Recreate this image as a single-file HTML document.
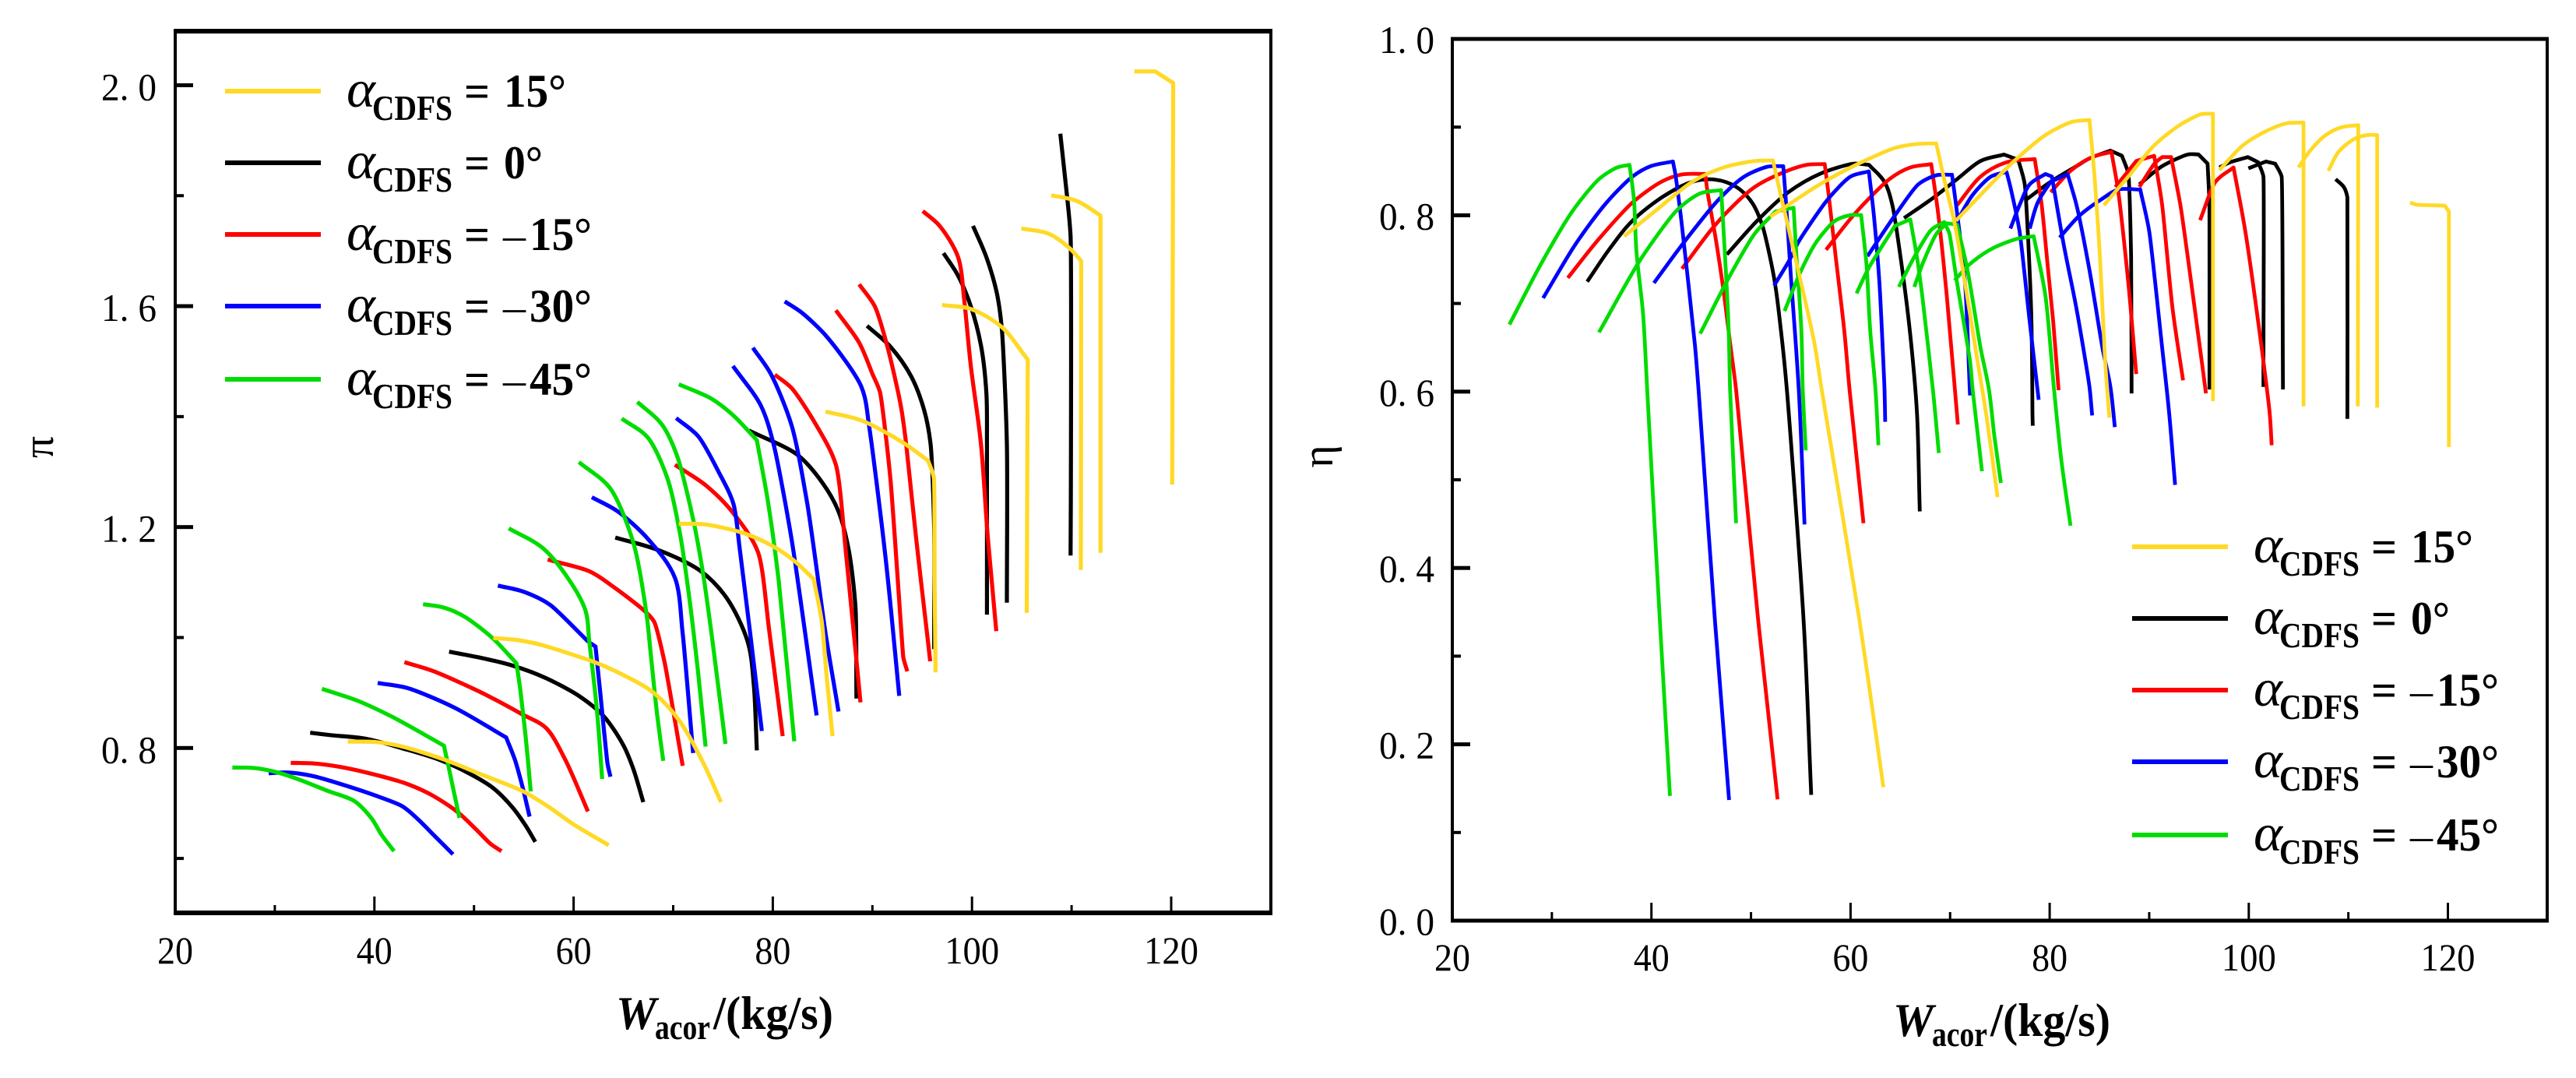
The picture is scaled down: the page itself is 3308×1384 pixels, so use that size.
<!DOCTYPE html>
<html lang="en">
<head>
<meta charset="utf-8">
<title>Compressor maps</title>
<style>
html,body{margin:0;padding:0;background:#fff;width:3308px;height:1384px;overflow:hidden}
svg{display:block;font-family:"Liberation Serif",serif}
</style>
</head>
<body>
<svg id="figure" xmlns="http://www.w3.org/2000/svg" width="3308" height="1384" viewBox="0 0 3308 1384">
  <rect width="3308" height="1384" fill="#fff"/>
  <g id="left-chart"></g>
  <g id="right-chart"></g>
</svg>
<script>
const xTickLabels = [20, 40, 60, 80, 100, 120];
const xTickMinor = [30, 50, 70, 90, 110, 130];
const piTickLabels = ["0. 8", "1. 2", "1. 6", "2. 0"];
const piTickValues = [0.8, 1.2, 1.6, 2.0];
const piTickMinor = [0.6, 1.0, 1.4, 1.8];
const etaTickLabels = ["0. 0", "0. 2", "0. 4", "0. 6", "0. 8", "1. 0"];
const etaTickValues = [0, 0.2, 0.4, 0.6, 0.8, 1.0];
const etaTickMinor = [0.1, 0.3, 0.5, 0.7, 0.9];
const legendAngles = ["15°", "0°", "–15°", "–30°", "–45°"];

/* pressure ratio: each curve is a list of [Wacor, pi] readings */
const piBlack = [
[[33.55,.8276],[35.77,.8229],[39.16,.8167],[42.8,.7994],[46.45,.7791],[49.58,.7533],[51.93,.7274],[53.88,.6921],[55.19,.6592],[56.15,.63]],
[[47.5,.9743],[51,.962],[54.01,.9484],[57.14,.9272],[60.53,.8943],[63,.858],[65,.805],[66,.762],[67,.702]],
[[64.18,1.1811],[68.6,1.1576],[72.78,1.12],[75.4,1.0706],[77.47,.993],[78.1,.913],[78.4,.7956]],
[[77.6,1.3748],[82.42,1.3316],[85,1.2798],[86.6,1.2281],[87.63,1.1576],[88.3,1.0542],[88.4,.8896]],
[[89.46,1.5643],[91.8,1.5267],[93.9,1.4726],[95.2,1.4115],[95.84,1.3504],[96.2,1.2],[96.2,.979]],
[[97.14,1.6959],[98.58,1.656],[99.88,1.5996],[100.9,1.529],[101.44,1.4444],[101.5,1.3504],[101.5,1.0414]],
[[100.1,1.7453],[101.44,1.6889],[102.5,1.623],[103,1.5572],[103.5,1.3504],[103.5,1.063]],
[[108.87,1.9122],[109.5,1.8064],[109.9,1.7265],[109.94,1.3504],[109.9,1.1485]]
];
const piRed = [
[[31.6,.773],[33.94,.772],[37.07,.764],[40.72,.7486],[43.33,.7345],[45.67,.7157],[48.28,.6851],[50.1,.6545],[51.67,.6263],[52.76,.6132]],
[[43.01,.9554],[45.93,.939],[50.62,.9014],[54.79,.8614],[57.27,.8356],[59.22,.7768],[61.44,.6851]],
[[57.4,1.1411],[61.57,1.12],[64.18,1.0894],[67.04,1.0495],[68.09,1.0283],[69.13,.9554],[70.95,.7677]],
[[70.17,1.3128],[73.3,1.2751],[75.9,1.2281],[78.5,1.1552],[79.68,1.007],[80.99,.8215]],
[[80.2,1.476],[81.9,1.4514],[84.25,1.388],[86.33,1.3128],[87.37,1.1482],[88.8,.8826]],
[[86.33,1.5925],[88.67,1.5337],[90,1.4773],[90.76,1.4444],[91.8,1.2892],[93.1,.9648],[93.5,.9388]],
[[88.67,1.6395],[90.24,1.5996],[91.54,1.5243],[92.84,1.421],[93.36,1.355],[94.4,1.178],[95.6,.99],[95.8,.957]],
[[95.06,1.7721],[96.75,1.7453],[98.6,1.6889],[99.23,1.609],[99.88,1.4914],[100.9,1.3504],[101.6,1.178],[102.44,1.0116]]
];
const piBlue = [
[[29.38,.7542],[31.34,.7556],[33.94,.7486],[37.07,.7321],[40.2,.7133],[42.8,.6945],[44.37,.671],[46.19,.6381],[47.89,.6075]],
[[40.33,.9178],[43.33,.9084],[48.02,.8732],[53.23,.8191],[54.14,.7768],[54.93,.7251],[55.58,.6757]],
[[52.4,1.094],[55.06,1.0824],[57.66,1.0589],[61.44,.993],[62.2,.9837],[62.6,.913],[63.4,.7721],[63.7,.748]],
[[61.83,1.254],[64.44,1.2281],[67.57,1.1764],[70.17,1.1082],[70.95,1.0071],[72,.7909]],
[[70.3,1.3974],[72.5,1.3645],[74.6,1.2986],[76.04,1.2422],[76.7,1.1576],[77.73,1.0071],[78.9,.8308]],
[[76,1.4916],[78.77,1.4209],[80.08,1.35],[81.9,1.1764],[84.4,.859]],
[[78,1.5246],[79.8,1.4773],[81.9,1.3833],[83.46,1.2422],[85.3,1.007],[86.6,.866]],
[[81.2,1.6086],[82.94,1.5878],[85.5,1.5431],[88.9,1.4538],[89.7,1.3786],[91.3,1.1482],[92.7,.8943]]
];
const piGreen = [
[[25.74,.7646],[27.95,.7636],[30.3,.7556],[32.64,.7415],[35.25,.7227],[37.98,.7039],[39.68,.6734],[40.72,.6428],[41.97,.6132]],
[[34.73,.907],[38.38,.885],[41.76,.8567],[44.37,.8309],[46.98,.8041],[47.37,.7721],[48.54,.6734]],
[[44.89,1.0603],[46.98,1.0542],[49.06,1.0377],[51.93,.9978],[54.27,.9531],[54.66,.9037],[55.19,.8191],[55.7,.7213]],
[[53.49,1.1976],[56.88,1.1623],[59.49,1.1059],[61.18,1.0495],[61.57,.9931],[62.35,.8661],[62.87,.7439]],
[[60.53,1.3175],[63.66,1.2704],[66,1.1717],[67.3,1.0448],[67.8,.96],[68.35,.8661],[69,.7768]],
[[64.83,1.3964],[67.44,1.3621],[69.4,1.2892],[70.7,1.1858],[71.74,1.0542],[72.5,.9366],[73.25,.8026]],
[[66.4,1.4265],[68.87,1.3856],[70.43,1.3269],[72,1.214],[73,1.1153],[73.95,.993],[75.25,.8073]],
[[70.56,1.4585],[73.82,1.4326],[76.04,1.4021],[78.4,1.3574],[79.55,1.2422],[80.6,1.1012],[82.16,.812]]
];
const piYellow = [
[[37.33,.8116],[40.2,.8106],[42.8,.8026],[46.98,.7791],[50.89,.7509],[54.79,.7227],[57.4,.6945],[60,.6616],[63.53,.624]],
[[51.93,.9992],[54.5,.995],[56.88,.986],[62.1,.9554],[65,.932],[68.1,.899],[70.7,.8473],[73.04,.772],[74.8,.702]],
[[70.56,1.206],[73.3,1.2046],[77.2,1.1882],[80.08,1.1646],[82.16,1.1388],[84.1,1.1059],[84.9,1.0307],[85.42,.9272],[86,.8214]],
[[85.29,1.4091],[88.94,1.3927],[93.1,1.3527],[95.6,1.32],[96.17,1.2894],[96.25,1.1],[96.34,.9369]],
[[97,1.602],[99.88,1.5948],[103,1.5619],[105.6,1.5032],[105.55,1.3],[105.5,1.0446]],
[[104.96,1.7406],[107.7,1.731],[109.78,1.7053],[110.96,1.6818],[110.93,1.1223]],
[[107.96,1.8008],[110.57,1.79],[112.9,1.7641],[112.9,1.1534]],
[[116.3,2.025],[118.4,2.025],[120.2,2.0039],[120.1,1.2769]]
];

/* efficiency: each curve is a list of [Wacor, eta] readings */
const etaBlack = [
[[33.55,.7247],[35.77,.7615],[38.1,.7939],[41.25,.8218],[44.1,.838],[46.46,.8404],[48.54,.8321],[50.1,.8145],[51.15,.788],[52.32,.7291],[53,.6702],[53.6,.6025],[55.3,.3375],[56.05,.1427]],
[[47.58,.7556],[50.63,.7939],[53.76,.8262],[56.9,.8469],[60.3,.8586],[61.85,.8572],[63.4,.838],[64.2,.8115],[65.2,.7379],[66,.6643],[66.67,.5759],[66.95,.4641]],
[[65.37,.7968],[68.37,.8203],[70.7,.841],[73.06,.8616],[75.4,.8689],[76.85,.863],[77.5,.8351],[78.14,.6937],[78.27,.5759],[78.3,.5613]],
[[77.6,.8174],[80.1,.838],[82.7,.8557],[84,.8645],[86.1,.8733],[87.26,.8675],[87.9,.8469],[88.18,.7526],[88.23,.598]],
[[89,.835],[91.3,.8557],[93.9,.869],[94.95,.869],[95.86,.8586],[96.05,.8115],[96.05,.6025]],
[[97.04,.8542],[98.08,.86],[99.9,.866],[100.95,.8601],[101.47,.8439],[101.47,.6054]],
[[99.96,.8533],[101.73,.861],[102.65,.8586],[103.3,.8439],[103.43,.6025]],
[[108.72,.841],[109.55,.832],[109.9,.8204],[109.9,.5692]]
];
const etaRed = [
[[31.6,.729],[34.73,.7732],[38.1,.8145],[41,.838],[43.07,.8463],[45.4,.8469],[45.68,.8233],[46.46,.7732],[47.24,.7144],[47.9,.6555],[48.5,.6025],[50.7,.3434],[52.67,.1376]],
[[43.07,.7394],[45.9,.7821],[47.76,.8056],[50.37,.8321],[53.5,.8498],[55.6,.8572],[57.4,.858],[57.8,.8233],[58.45,.7585],[59.36,.6702],[59.9,.6025],[61.3,.4508]],
[[57.54,.7609],[60.5,.8027],[63.9,.841],[66,.8542],[68.1,.858],[68.76,.8056],[69.67,.7085],[70.78,.5628]],
[[70.7,.8115],[73.06,.8439],[75.67,.8601],[78.5,.8639],[79.2,.8115],[79.84,.7379],[80.36,.679],[80.9,.6016]],
[[80.1,.8262],[82.2,.8513],[84.27,.866],[86.2,.8719],[86.9,.8262],[87.9,.7232],[88.7,.62]],
[[86.6,.8321],[88.7,.8616],[90.5,.8675],[91.3,.8115],[92.35,.6937],[93.4,.6128]],
[[89,.8321],[90.52,.8586],[91.3,.866],[92.2,.866],[93.13,.8115],[94.4,.7085],[95.7,.598]],
[[95.1,.7944],[96.65,.838],[98.47,.8542],[99.65,.7821],[100.95,.679],[102.1,.5759],[102.3,.5392]]
];
const etaBlue = [
[[29.12,.7061],[32.38,.7673],[35.5,.8145],[38.1,.8439],[39.94,.8557],[42.16,.861],[42.4,.8469],[43.07,.788],[44.37,.6525],[44.73,.6025],[46.4,.3375],[47.8,.1368]],
[[40.25,.7232],[43.33,.7703],[46.72,.8174],[49.33,.8439],[51.67,.8551],[53.24,.8557],[53.5,.8174],[54.02,.7291],[54.8,.6025],[55.38,.4494]],
[[52.32,.7202],[53.89,.7497],[54.8,.7703],[57.67,.8174],[60,.8439],[61.84,.8498],[62.37,.7968],[62.9,.7232],[63.4,.6054],[63.48,.5657]],
[[61.7,.7536],[64.45,.7997],[66.8,.835],[68.63,.8454],[70.19,.846],[70.6,.8115],[71.5,.7232],[72,.5957]],
[[70.7,.7938],[72.28,.8233],[74.1,.8439],[75.67,.8492],[76.06,.832],[76.97,.782],[78,.679],[78.9,.5907]],
[[76.06,.785],[76.97,.8115],[78,.8351],[79.58,.8468],[80.23,.8439],[81.4,.7674],[82.7,.6937],[84,.6054],[84.27,.573]],
[[78,.785],[78.8,.8145],[80.1,.838],[81.8,.8468],[82.7,.8115],[84,.7379],[85.3,.6495],[86.1,.6054],[86.55,.5598]],
[[81,.7747],[83,.7997],[85.3,.8189],[86.9,.8292],[89.1,.8292],[90,.7821],[91.3,.6495],[92,.5759],[92.6,.4943]]
];
const etaGreen = [
[[25.73,.6761],[29,.7467],[32.12,.8056],[34.73,.841],[36.55,.8542],[37.8,.8572],[38.25,.8174],[38.5,.7585],[39.16,.6878],[39.6,.5966],[40.86,.3375],[41.86,.1415]],
[[34.73,.6672],[38.9,.7497],[42.55,.8056],[44.9,.8248],[47,.8286],[47.37,.7585],[47.76,.6702],[47.9,.6025],[48.5,.4508]],
[[44.9,.6658],[47.76,.729],[50.37,.7791],[52.45,.8042],[54.28,.8086],[54.54,.7585],[55.06,.6702],[55.2,.6025],[55.5,.5333]],
[[53.37,.6914],[55.06,.7379],[56.6,.7703],[58.45,.7938],[60,.8003],[61.06,.8003],[61.6,.7438],[61.97,.6702],[62.5,.6025],[62.8,.5392]],
[[60.6,.7114],[61.85,.7408],[64.45,.7879],[66,.7953],[66.67,.7526],[67.2,.7085],[68.27,.6025],[68.87,.5304]],
[[64.85,.7188],[66.54,.7556],[68.1,.7835],[69.4,.7924],[69.93,.7791],[70.7,.7232],[72,.6348],[72.26,.6025],[73.2,.5097]],
[[66.4,.7188],[67.3,.7467],[68.63,.7791],[69.67,.7909],[70.7,.7894],[71.75,.7379],[73.06,.6495],[73.9,.6025],[74.45,.5495],[75.1,.4965]],
[[70.45,.7261],[71.9,.7438],[74.1,.7615],[76.7,.7732],[78.4,.7762],[79.58,.7085],[80.44,.6025],[81.2,.52],[82.1,.4479]]
];
const etaYellow = [
[[37.26,.7762],[40.46,.8056],[44.1,.838],[47.24,.8542],[50.37,.8616],[52.2,.8622],[52.98,.8233],[54.8,.735],[56.36,.6555],[57.1,.6025],[60.9,.3404],[63.3,.1513]],
[[51.93,.7983],[53.5,.81],[56.9,.835],[60.8,.8586],[64.45,.8763],[66.54,.8807],[68.6,.8816],[69.4,.841],[70.45,.7909],[71.5,.7232],[72.54,.6495],[73.6,.5759],[74.77,.4803]],
[[70.58,.7938],[73.58,.8292],[76.45,.8616],[79.58,.891],[82.18,.9057],[84,.9081],[84.53,.841],[85.05,.7526],[85.57,.6348],[86,.5704]],
[[85.44,.8115],[87.9,.8439],[90.5,.8792],[93.13,.9028],[95.2,.9146],[96.4,.9152],[96.4,.5892]],
[[97.04,.8513],[99.4,.8792],[101.73,.8954],[103.8,.9043],[105.5,.9052],[105.5,.5833]],
[[104.99,.8542],[106.16,.8733],[107.73,.891],[109.3,.8998],[111,.9022],[110.95,.5833]],
[[107.99,.8504],[109.03,.872],[110.6,.8866],[111.9,.891],[112.9,.891],[112.9,.5818]],
[[116.2,.8145],[116.85,.8121],[119.7,.8109],[120.1,.8042],[120.1,.5372]]
];

const NS = "http://www.w3.org/2000/svg";
const COLORS = {black:"#000000", red:"#ff0000", blue:"#0000ff", green:"#00dc00", yellow:"#ffd925"};

function make(tag, parent, attrs, txt) {
  const el = document.createElementNS(NS, tag);
  for (const k in attrs) el.setAttribute(k, attrs[k]);
  if (txt !== undefined) el.textContent = txt;
  parent.appendChild(el);
  return el;
}
function scale(d0, d1, p0, p1) { return v => p0 + (v - d0) * (p1 - p0) / (d1 - d0); }

/* condensed text: tall glyphs squeezed to a measured width */
function squeezed(parent, x, y, size, len, str, extra) {
  const attrs = {x: x, y: y, "font-size": size, textLength: len, lengthAdjust: "spacingAndGlyphs"};
  for (const k in extra) attrs[k] = extra[k];
  return make("text", parent, attrs, str);
}

/* smooth gentle bends with handles bounded by the shorter neighbouring chord, keep sharp corners */
function curvePath(pts) {
  const n = pts.length;
  const tan = pts.map((p, i) => {
    if (i === 0 || i === n - 1) return null;
    const ax = p[0] - pts[i-1][0], ay = p[1] - pts[i-1][1];
    const bx = pts[i+1][0] - p[0], by = pts[i+1][1] - p[1];
    const la = Math.hypot(ax, ay), lb = Math.hypot(bx, by);
    const cos = (ax*bx + ay*by) / (la*lb || 1);
    if (cos < 0.85) return null;
    const tx = ax/la + bx/lb, ty = ay/la + by/lb, tl = Math.hypot(tx, ty) || 1;
    const h = Math.min(la, lb) / 3;
    return [tx/tl*h, ty/tl*h];
  });
  let d = "M" + pts[0][0].toFixed(1) + " " + pts[0][1].toFixed(1);
  for (let i = 1; i < n; i++) {
    const a = pts[i-1], b = pts[i];
    const c1 = tan[i-1] ? [a[0] + tan[i-1][0], a[1] + tan[i-1][1]] : [a[0] + (b[0]-a[0])/3, a[1] + (b[1]-a[1])/3];
    const c2 = tan[i] ? [b[0] - tan[i][0], b[1] - tan[i][1]] : [b[0] - (b[0]-a[0])/3, b[1] - (b[1]-a[1])/3];
    d += "C" + c1[0].toFixed(1) + " " + c1[1].toFixed(1) + " " + c2[0].toFixed(1) + " " + c2[1].toFixed(1) + " " + b[0].toFixed(1) + " " + b[1].toFixed(1);
  }
  return d;
}

function drawSeries(g, x, y, curves, colorName, width, prefix) {
  curves.forEach((curve, i) => {
    const d = curvePath(curve.map(p => [x(p[0]), y(p[1])]));
    const path = make("path", g, {d: d, fill: "none", stroke: COLORS[colorName], "stroke-width": width, "stroke-linejoin": "round", "stroke-linecap": "butt"});
    
    
  });
}

function drawAxes(g, box, x, y, cfg) {
  cfg.xMajor.forEach(v => {
    const t = make("rect", g, {x: x(v) - 1.5, y: box.bottom - cfg.xMajorLen, width: 3, height: cfg.xMajorLen, fill: "#000"});
    
    
    const s = String(v);
    const l = squeezed(g, x(v), cfg.xLabelY, 50, s.length === 3 ? 70 : 46, s, {"text-anchor": "middle"});
    
    
  });
  cfg.xMinor.forEach(v => {
    const t = make("rect", g, {x: x(v) - 1.5, y: box.bottom - cfg.xMinorLen, width: 3, height: cfg.xMinorLen, fill: "#000"});
    
    
  });
  cfg.yMajor.forEach((v, i) => {
    const t = make("rect", g, {x: box.left, y: y(v) - 2.5, width: 23, height: 5, fill: "#000"});
    
    
    const l = squeezed(g, cfg.yLabelX, y(v) + cfg.yLabelDy, 50, 71, cfg.yLabels[i], {"text-anchor": "end"});
    
    
  });
  cfg.yMinor.forEach(v => {
    const t = make("rect", g, {x: box.left, y: y(v) - 2, width: 11, height: 4, fill: "#000"});
    
    
  });
  const spines = [
    [box.left - 2, box.top - cfg.hThick / 2, box.right - box.left + 4, cfg.hThick],
    [box.left - 2, box.bottom - cfg.hThick / 2, box.right - box.left + 4, cfg.hThick],
    [box.left - 2, box.top, 4, box.bottom - box.top],
    [box.right - 2, box.top, 4, box.bottom - box.top]
  ];
  spines.forEach(s => {
    const r = make("rect", g, {x: s[0], y: s[1], width: s[2], height: s[3], fill: "#000"});
    
    
  });
}

function drawXTitle(g, x0, base) {
  const t = make("g", g, {});
  
  
  squeezed(t, x0, base, 60, 52, "W", {"font-style": "italic", "font-weight": "bold"});
  squeezed(t, x0 + 50, base + 13, 46, 71, "acor", {"font-weight": "bold"});
  squeezed(t, x0 + 125, base, 60, 154, "/(kg/s)", {"font-weight": "bold"});
}

function drawYTitle(g, cx, cy, ch, name) {
  const t = make("text", g, {x: 0, y: 0, "font-size": 56, "text-anchor": "middle", "dominant-baseline": "central", transform: "translate(" + cx + " " + cy + ") rotate(-90)"}, ch);
  
  
}

function drawLegend(g, dx, dy) {
  const colors = ["yellow", "black", "red", "blue", "green"];
  const lineYs = [117, 209, 301, 393, 487];
  legendAngles.forEach((ang, i) => {
    const yy = lineYs[i] + dy;
    const line = make("rect", g, {x: 289 + dx, y: yy - 3, width: 123, height: 6, fill: COLORS[colors[i]]});
    
    
    const base = yy + 20;
    const t = make("g", g, {});
    
    
    squeezed(t, 445 + dx, base, 68, 37, "α", {"font-style": "italic"});
    squeezed(t, 478 + dx, base + 17, 45, 103, "CDFS", {"font-weight": "bold"});
    make("text", t, {x: 596 + dx, y: base, "font-size": 58, "font-weight": "bold"}, "=");
    if (ang[0] === "–") {
      make("text", t, {x: 646 + dx, y: base, "font-size": 58}, "–");
      squeezed(t, 680 + dx, base, 60, 80, ang.slice(1), {"font-weight": "bold"});
    } else {
      squeezed(t, 647 + dx, base, 60, ang.length === 3 ? 80 : 50, ang, {"font-weight": "bold"});
    }
  });
}

/* left chart */
const gL = document.getElementById("left-chart");
const boxL = {left: 225, right: 1632, top: 40, bottom: 1172};
const xL = scale(20, 120, 225, 1504);
const yL = scale(2.0, 0.8, 109.4, 960.3);
[[piBlack,"black"],[piRed,"red"],[piBlue,"blue"],[piGreen,"green"],[piYellow,"yellow"]].forEach(s => drawSeries(gL, xL, yL, s[0], s[1], 5.2, "pi"));
drawAxes(gL, boxL, xL, yL, {xMajor: xTickLabels, xMinor: xTickMinor, yMajor: piTickValues, yLabels: piTickLabels, yMinor: piTickMinor, xMajorLen: 21, xMinorLen: 10, xLabelY: 1237, yLabelX: 201, yLabelDy: 19, hThick: 6});
drawXTitle(gL, 791, 1321);
drawYTitle(gL, 50, 574, "π", "y-axis-title-pi");
drawLegend(gL, 0, 0);

/* right chart */
const gR = document.getElementById("right-chart");
const boxR = {left: 1865, right: 3271, top: 50, bottom: 1182};
const xR = scale(20, 120, 1865, 3143.5);
const yR = scale(1.0, 0, 50, 1182);
[[etaBlack,"black"],[etaRed,"red"],[etaBlue,"blue"],[etaGreen,"green"],[etaYellow,"yellow"]].forEach(s => drawSeries(gR, xR, yR, s[0], s[1], 4.8, "eta"));
drawAxes(gR, boxR, xR, yR, {xMajor: xTickLabels, xMinor: xTickMinor, yMajor: etaTickValues, yLabels: etaTickLabels, yMinor: etaTickMinor, xMajorLen: 23, xMinorLen: 11, xLabelY: 1246, yLabelX: 1842, yLabelDy: 18, hThick: 5});
drawXTitle(gR, 2431, 1330);
drawYTitle(gR, 1693, 586, "η", "y-axis-title-eta");
drawLegend(gR, 2449, 585);
</script>
</body>
</html>
